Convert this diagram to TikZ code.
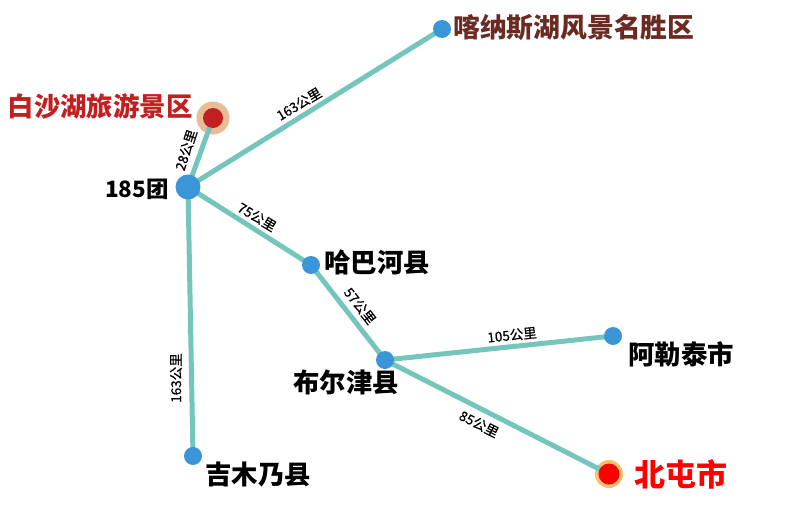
\documentclass[tikz,border=0pt]{standalone}
\usepackage{fontspec}
\setmainfont{Noto Sans CJK SC}
\newfontfamily\distfont[FakeBold=0.6]{Noto Sans CJK SC}
\definecolor{linec}{HTML}{74C6BC}
\definecolor{bluec}{HTML}{3A96D9}
\definecolor{brownc}{HTML}{6B2B22}
\definecolor{redc}{HTML}{C02020}
\definecolor{halo}{HTML}{E8BC94}
\definecolor{halob}{HTML}{F5BE70}
\tikzset{
  road/.style={draw=linec,line width=5pt},
  stop/.style={circle,fill=bluec,inner sep=0pt,minimum size=18pt},
  place/.style={font=\fontsize{26.4pt}{27pt}\selectfont\bfseries,text=black,inner sep=0pt,anchor=west},
  dist/.style={font=\fontsize{13.5pt}{14pt}\distfont,text=black,inner sep=0pt}
}
\begin{document}
\begin{tikzpicture}[x=1pt,y=-1pt]
\useasboundingbox (0,0) rectangle (800,506);
\node[circle,fill=halo,inner sep=0pt,minimum size=33pt] (bsh) at (213,118) {};
\node[circle,fill=halob,inner sep=0pt,minimum size=28pt] (bt) at (609,474) {};
\coordinate (t185) at (188,187);
\coordinate (kns) at (442,29);
\coordinate (hbh) at (311,265);
\coordinate (bej) at (385,360);
\coordinate (alt) at (613,336);
\coordinate (jmn) at (193,456);
\draw[road,shorten >=6pt] (t185) -- (bsh.center);
\draw[road] (t185) -- (kns);
\draw[road] (t185) -- (hbh);
\draw[road] (t185) -- (jmn);
\draw[road] (hbh) -- (bej);
\draw[road] (bej) -- (alt);
\draw[road] (bej) -- (bt.center);
\node[circle,fill=redc,inner sep=0pt,minimum size=20pt] (bshi) at (bsh) {};
\node[circle,fill=red,inner sep=0pt,minimum size=21pt] (bti) at (bt) {};
\node[stop,minimum size=25pt] (n185) at (t185) {};
\node[stop] (nkns) at (kns) {};
\node[stop] (nhbh) at (hbh) {};
\node[stop] (nbej) at (bej) {};
\node[stop] (nalt) at (alt) {};
\node[stop] (njmn) at (jmn) {};
\node[place,text=redc] (lbsh) at (7.5,106) {白沙湖旅游景区};
\node[place,text=brownc,font=\fontsize{26.8pt}{27pt}\selectfont\bfseries] (lkns) at (453,28) {喀纳斯湖风景名胜区};
\node[place,font=\fontsize{22.5pt}{23pt}\selectfont\bfseries] (l185) at (105,189) {185团};
\node[place] (lhbh) at (324,262) {哈巴河县};
\node[place] (lbej) at (293,382) {布尔津县};
\node[place] (lalt) at (628,354) {阿勒泰市};
\node[place] (ljmn) at (205,475) {吉木乃县};
\node[place,text=red,font=\fontsize{31pt}{32pt}\selectfont\bfseries] (lbt) at (634.5,474) {北屯市};
\node[dist,rotate=31] (e1) at (299,104) {163公里};
\node[dist,rotate=72] (e2) at (186,150) {28公里};
\node[dist,rotate=-31] (e3) at (257,217) {75公里};
\node[dist,rotate=90] (e4) at (176,378) {163公里};
\node[dist,rotate=-52] (e5) at (360,306) {57公里};
\node[dist,rotate=6] (e6) at (512,335) {105公里};
\node[dist,rotate=-27] (e7) at (479,424) {85公里};
\end{tikzpicture}
\end{document}
